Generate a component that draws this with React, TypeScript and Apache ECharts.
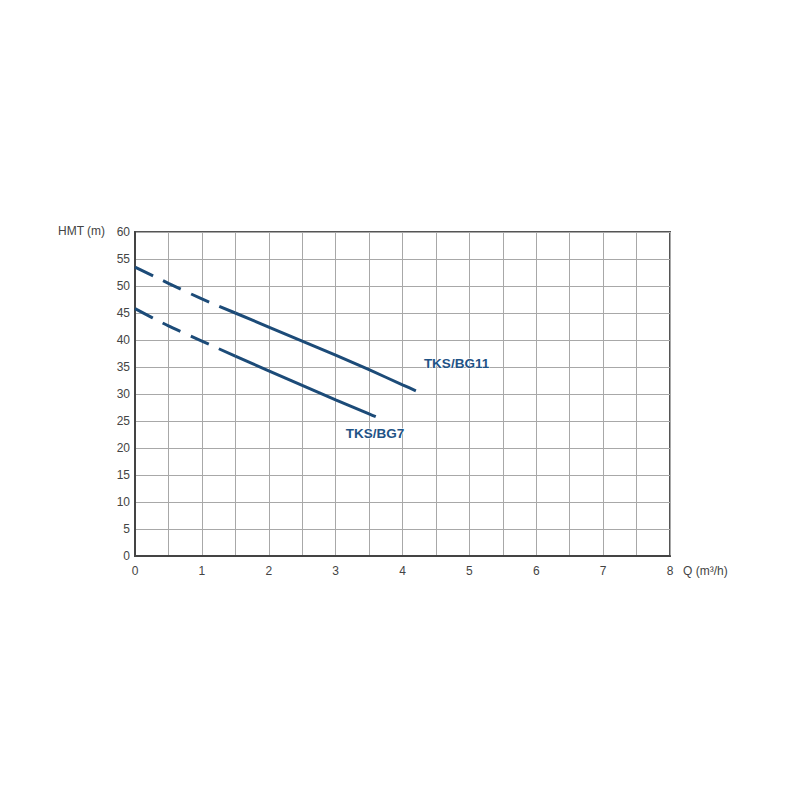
import React, { useEffect, useRef } from "react";
import * as echarts from "echarts";

const xTicks = [0, 1, 2, 3, 4, 5, 6, 7, 8];
const bg11Dashed: [number, number][] = [[0, 53.5], [0.5, 50.5], [1, 47.6], [1.5, 45]];
const bg11Solid: [number, number][] = [[1.5, 45], [2, 42.4], [2.5, 39.8], [3, 37.2], [3.5, 34.5], [4, 31.7], [4.2, 30.6]];
const bg7Dashed: [number, number][] = [[0, 45.8], [0.5, 42.6], [1, 39.8], [1.5, 37]];
const bg7Solid: [number, number][] = [[1.5, 37], [2, 34.3], [2.5, 31.6], [3, 28.9], [3.5, 26.3], [3.6, 25.8]];
const names = ["TKS/BG11", "TKS/BG7"];

const LINE = "#1c4b78";
const LABEL = "#1f5386";
const FONT = "Liberation Sans, Arial, sans-serif";

export default function App() {
  const ref = useRef<HTMLDivElement>(null);
  useEffect(() => {
    document.body.style.margin = "0";
    const chart = echarts.init(ref.current!, null, { renderer: "svg" });
    const lineSeries = (data: [number, number][], dashed: boolean, endName?: string, offset?: number[], align?: string) => ({
      type: "line",
      data,
      symbol: "none",
      smooth: 0.15,
      lineStyle: { color: LINE, width: 3, type: dashed ? [20, 11] : "solid" },
      endLabel: endName
        ? {
            show: true,
            formatter: endName,
            color: LABEL,
            fontSize: 13.5,
            fontWeight: "bold",
            fontFamily: FONT,
            offset,
            align,
            textBorderColor: "#ffffff",
            textBorderWidth: 1,
          }
        : { show: false },
    });
    chart.setOption({
      animation: false,
      grid: { left: 135, right: 130, top: 232, bottom: 244, show: true, borderColor: "#555", borderWidth: 2, backgroundColor: "transparent" },
      xAxis: {
        type: "value",
        min: 0,
        max: 8,
        interval: 0.5,
        axisLine: { show: true, lineStyle: { color: "#444", width: 2 } },
        axisTick: { show: false },
        splitLine: { show: true, lineStyle: { color: "#a8a8a8", width: 1 } },
        axisLabel: {
          color: "#444",
          fontSize: 12,
          fontFamily: FONT,
          margin: 9,
          formatter: (v: number) => (xTicks.includes(v) ? String(v) : ""),
        },
      },
      yAxis: {
        type: "value",
        min: 0,
        max: 60,
        interval: 5,
        axisLine: { show: true, lineStyle: { color: "#444", width: 2 } },
        axisTick: { show: false },
        splitLine: { show: true, lineStyle: { color: "#a8a8a8", width: 1 } },
        axisLabel: { color: "#444", fontSize: 12, fontFamily: FONT, margin: 5 },
      },
      graphic: [
        { type: "text", left: 58, top: 225, style: { text: "HMT (m)", fill: "#444", fontSize: 12, fontFamily: FONT } },
        { type: "text", left: 683, top: 565, style: { text: "Q (m³/h)", fill: "#444", fontSize: 12, fontFamily: FONT } },
      ],
      series: [
        lineSeries(bg11Dashed, true),
        lineSeries(bg11Solid, false, names[0], [0, -27], "left"),
        lineSeries(bg7Dashed, true),
        lineSeries(bg7Solid, false, names[1], [-38, 17], "left"),
      ],
    });
    return () => chart.dispose();
  }, []);
  return <div ref={ref} style={{ width: 800, height: 800 }} />;
}
